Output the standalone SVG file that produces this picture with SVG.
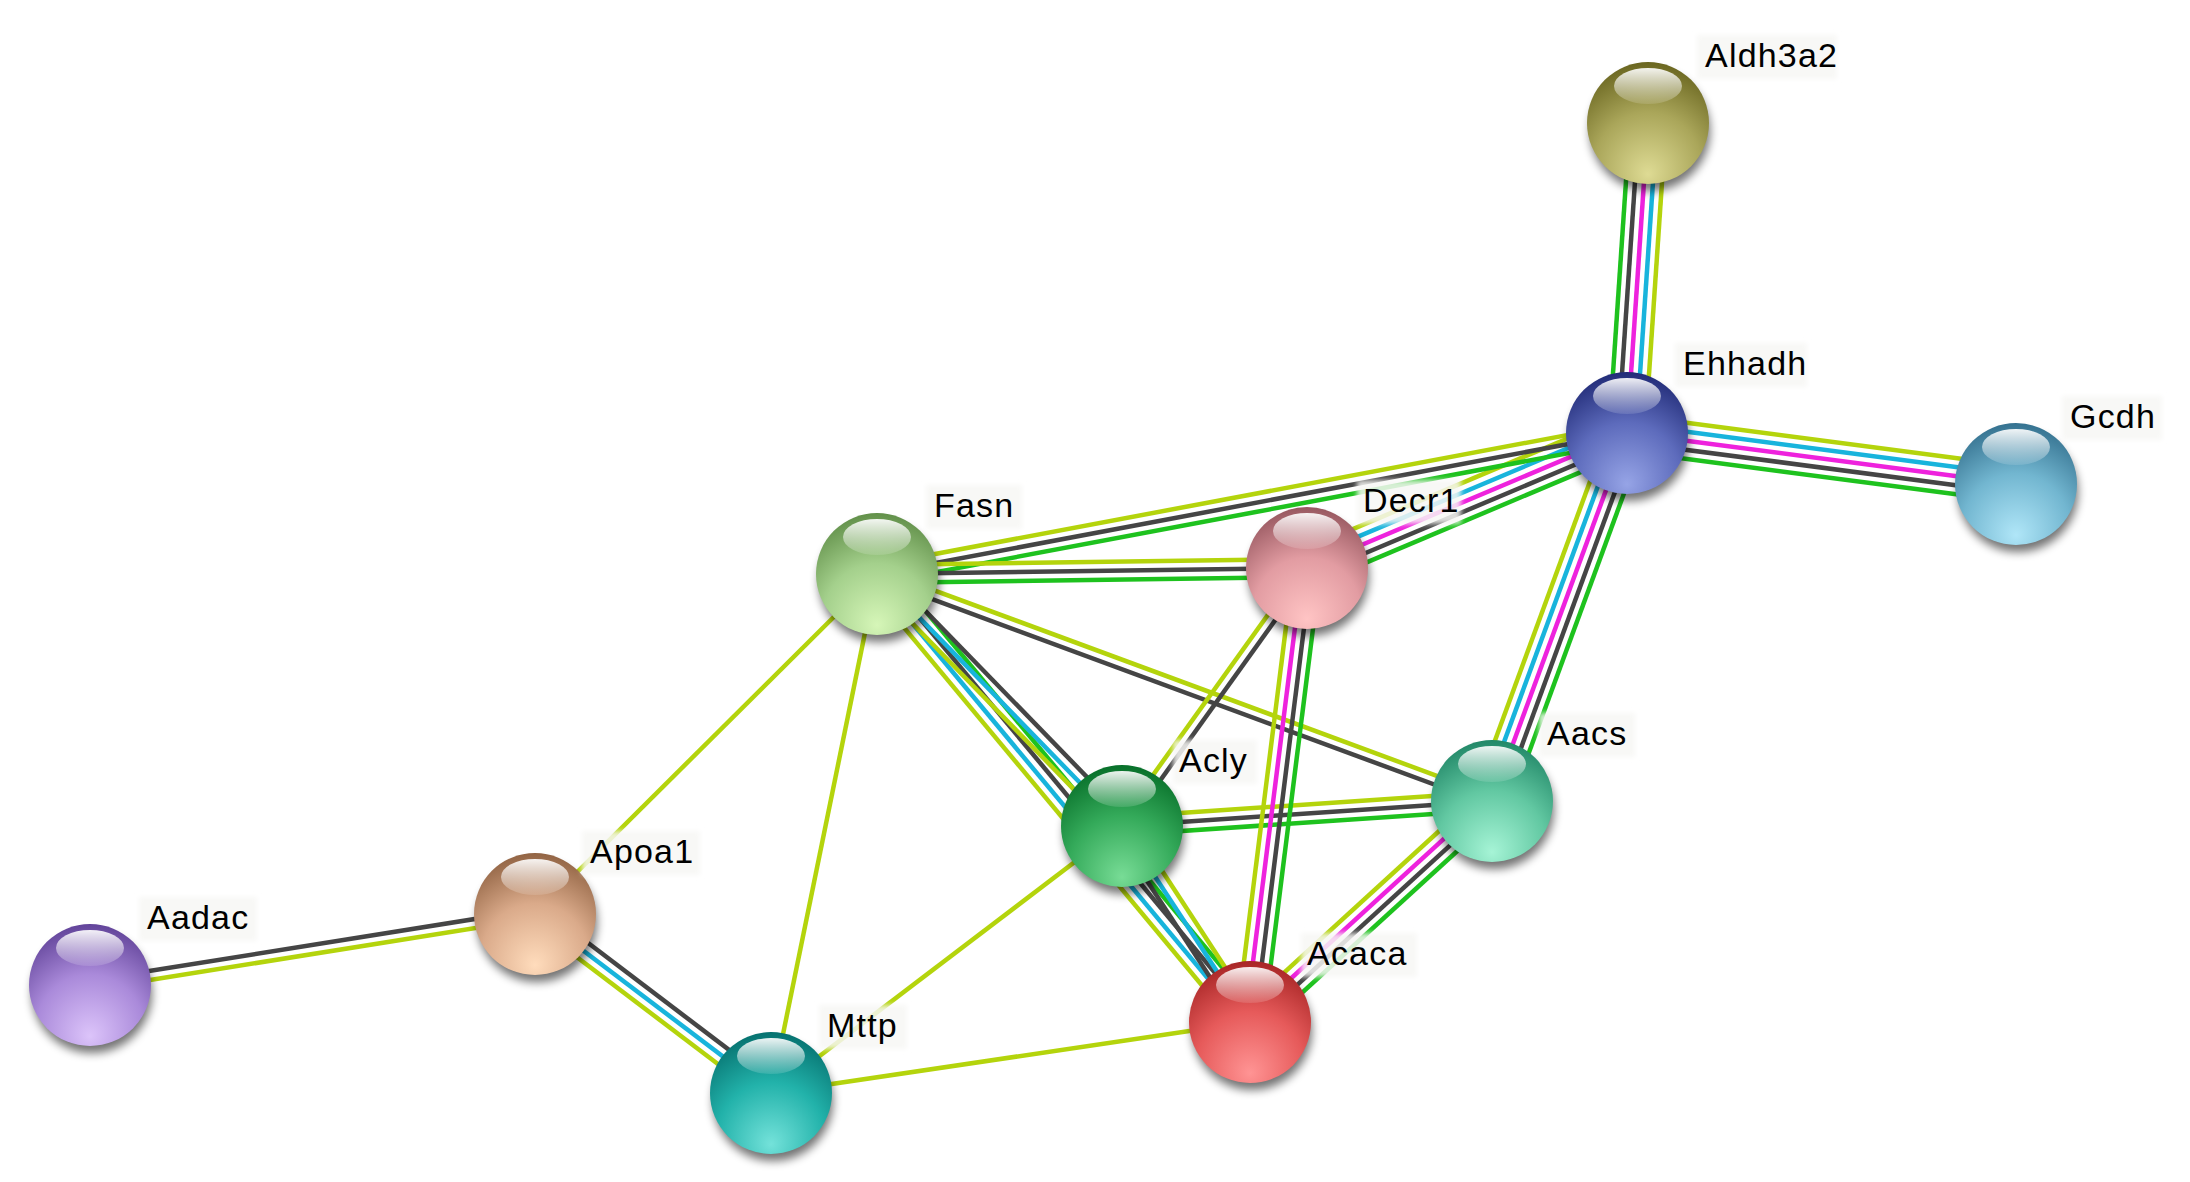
<svg xmlns="http://www.w3.org/2000/svg" width="2190" height="1182" viewBox="0 0 2190 1182">
<style>
.gn{stroke:#1ec21e}
.bk{stroke:#454545}
.mg{stroke:#ee22dd}
.cy{stroke:#18b4dc}
.yg{stroke:#b4d40c}
.lbl{font-family:"Liberation Sans",Arial,sans-serif;font-size:34px;letter-spacing:1.2px;fill:#000}
.lbg{fill:#f7f7f5;fill-opacity:0.85}
.shd{fill:#000;opacity:0.55}
.hl{fill:url(#hlg)}
</style>
<defs>
<filter id="blur" x="-30%" y="-30%" width="160%" height="160%"><feGaussianBlur stdDeviation="5"/></filter>
<filter id="soft" x="-20%" y="-40%" width="140%" height="180%"><feGaussianBlur stdDeviation="2.5"/></filter>
<linearGradient id="hlg" x1="0" y1="0" x2="0" y2="1">
<stop offset="0" stop-color="#fff" stop-opacity="0.92"/>
<stop offset="1" stop-color="#fff" stop-opacity="0.12"/>
</linearGradient>
<radialGradient id="gAldh" cx="0.5" cy="0.8" r="0.8" fx="0.5" fy="0.92"><stop offset="0" stop-color="#dedb94"/><stop offset="0.55" stop-color="#aaa65a"/><stop offset="1" stop-color="#6a6620"/></radialGradient>
<radialGradient id="gEhh" cx="0.5" cy="0.8" r="0.8" fx="0.5" fy="0.92"><stop offset="0" stop-color="#96a4e6"/><stop offset="0.55" stop-color="#5d6bbc"/><stop offset="1" stop-color="#222c78"/></radialGradient>
<radialGradient id="gGcdh" cx="0.5" cy="0.8" r="0.8" fx="0.5" fy="0.92"><stop offset="0" stop-color="#b0e6f8"/><stop offset="0.55" stop-color="#72b6d0"/><stop offset="1" stop-color="#357290"/></radialGradient>
<radialGradient id="gFasn" cx="0.5" cy="0.8" r="0.8" fx="0.5" fy="0.92"><stop offset="0" stop-color="#d6f6b8"/><stop offset="0.55" stop-color="#a4d08c"/><stop offset="1" stop-color="#62904a"/></radialGradient>
<radialGradient id="gDecr" cx="0.5" cy="0.8" r="0.8" fx="0.5" fy="0.92"><stop offset="0" stop-color="#ffc4c4"/><stop offset="0.55" stop-color="#e29ca2"/><stop offset="1" stop-color="#985860"/></radialGradient>
<radialGradient id="gAacs" cx="0.5" cy="0.8" r="0.8" fx="0.5" fy="0.92"><stop offset="0" stop-color="#a6f4d6"/><stop offset="0.55" stop-color="#62c8a2"/><stop offset="1" stop-color="#228868"/></radialGradient>
<radialGradient id="gAcly" cx="0.5" cy="0.8" r="0.8" fx="0.5" fy="0.92"><stop offset="0" stop-color="#78dc96"/><stop offset="0.55" stop-color="#34aa5a"/><stop offset="1" stop-color="#08702a"/></radialGradient>
<radialGradient id="gAcaca" cx="0.5" cy="0.8" r="0.8" fx="0.5" fy="0.92"><stop offset="0" stop-color="#ff9494"/><stop offset="0.55" stop-color="#e65a5a"/><stop offset="1" stop-color="#a82626"/></radialGradient>
<radialGradient id="gMttp" cx="0.5" cy="0.8" r="0.8" fx="0.5" fy="0.92"><stop offset="0" stop-color="#74e2da"/><stop offset="0.55" stop-color="#22b2aa"/><stop offset="1" stop-color="#067270"/></radialGradient>
<radialGradient id="gApoa" cx="0.5" cy="0.8" r="0.8" fx="0.5" fy="0.92"><stop offset="0" stop-color="#ffdcbc"/><stop offset="0.55" stop-color="#daaa8a"/><stop offset="1" stop-color="#926444"/></radialGradient>
<radialGradient id="gAadac" cx="0.5" cy="0.8" r="0.8" fx="0.5" fy="0.92"><stop offset="0" stop-color="#dcc4fa"/><stop offset="0.55" stop-color="#aa8ada"/><stop offset="1" stop-color="#62449a"/></radialGradient>
</defs>
<rect width="2190" height="1182" fill="#fff"/>
<g id="edges" stroke-width="4.5" fill="none">
<!-- Ehhadh - Aldh3a2 -->
<g transform="translate(1627 433) rotate(-86.13)">
<line class="gn" x1="0" y1="-18" x2="310.7" y2="-18"/><line class="bk" x1="0" y1="-9" x2="310.7" y2="-9"/><line class="mg" x1="0" y1="0" x2="310.7" y2="0"/><line class="cy" x1="0" y1="9" x2="310.7" y2="9"/><line class="yg" x1="0" y1="18" x2="310.7" y2="18"/>
</g>
<!-- Ehhadh - Gcdh -->
<g transform="translate(1627 433) rotate(7.47)">
<line class="yg" x1="0" y1="-18" x2="392.3" y2="-18"/><line class="cy" x1="0" y1="-9" x2="392.3" y2="-9"/><line class="mg" x1="0" y1="0" x2="392.3" y2="0"/><line class="bk" x1="0" y1="9" x2="392.3" y2="9"/><line class="gn" x1="0" y1="18" x2="392.3" y2="18"/>
</g>
<!-- Ehhadh - Decr1 -->
<g transform="translate(1627 433) rotate(157.13)">
<line class="yg" x1="0" y1="18" x2="347.3" y2="18"/><line class="cy" x1="0" y1="9" x2="347.3" y2="9"/><line class="mg" x1="0" y1="0" x2="347.3" y2="0"/><line class="bk" x1="0" y1="-9" x2="347.3" y2="-9"/><line class="gn" x1="0" y1="-18" x2="347.3" y2="-18"/>
</g>
<!-- Ehhadh - Fasn -->
<g transform="translate(1627 433) rotate(169.35)">
<line class="yg" x1="0" y1="9" x2="763.1" y2="9"/><line class="bk" x1="0" y1="0" x2="763.1" y2="0"/><line class="gn" x1="0" y1="-9" x2="763.1" y2="-9"/>
</g>
<!-- Ehhadh - Aacs -->
<g transform="translate(1627 433) rotate(110.15)">
<line class="yg" x1="0" y1="18" x2="392" y2="18"/><line class="cy" x1="0" y1="9" x2="392" y2="9"/><line class="mg" x1="0" y1="0" x2="392" y2="0"/><line class="bk" x1="0" y1="-9" x2="392" y2="-9"/><line class="gn" x1="0" y1="-18" x2="392" y2="-18"/>
</g>
<!-- Fasn - Decr1 -->
<g transform="translate(877 574) rotate(-0.8)">
<line class="yg" x1="0" y1="-9" x2="430" y2="-9"/><line class="bk" x1="0" y1="0" x2="430" y2="0"/><line class="gn" x1="0" y1="9" x2="430" y2="9"/>
</g>
<!-- Fasn - Aacs -->
<g transform="translate(877 574) rotate(20.26)">
<line class="yg" x1="0" y1="-4.5" x2="655.6" y2="-4.5"/><line class="bk" x1="0" y1="4.5" x2="655.6" y2="4.5"/>
</g>
<!-- Fasn - Acaca -->
<g transform="translate(877 574) rotate(50.22)">
<line class="yg" x1="0" y1="13.5" x2="583" y2="13.5"/><line class="cy" x1="0" y1="4.5" x2="583" y2="4.5"/><line class="bk" x1="0" y1="-4.5" x2="583" y2="-4.5"/><line class="gn" x1="0" y1="-13.5" x2="583" y2="-13.5"/>
</g>
<!-- Fasn - Acly -->
<g transform="translate(877 574) rotate(45.81)">
<line class="yg" x1="0" y1="9" x2="351.5" y2="9"/><line class="cy" x1="0" y1="0" x2="351.5" y2="0"/><line class="bk" x1="0" y1="-9" x2="351.5" y2="-9"/>
</g>
<!-- Acly - Acaca -->
<g transform="translate(1122 826) rotate(56.85)">
<line class="bk" x1="0" y1="9" x2="234.1" y2="9"/><line class="cy" x1="0" y1="0" x2="234.1" y2="0"/><line class="yg" x1="0" y1="-9" x2="234.1" y2="-9"/>
</g>
<!-- Acly - Aacs -->
<g transform="translate(1122 826) rotate(-3.87)">
<line class="yg" x1="0" y1="-9" x2="370.8" y2="-9"/><line class="bk" x1="0" y1="0" x2="370.8" y2="0"/><line class="gn" x1="0" y1="9" x2="370.8" y2="9"/>
</g>
<!-- Decr1 - Acly -->
<g transform="translate(1307 568) rotate(125.64)">
<line class="yg" x1="0" y1="4.5" x2="317.5" y2="4.5"/><line class="bk" x1="0" y1="-4.5" x2="317.5" y2="-4.5"/>
</g>
<!-- Decr1 - Acaca -->
<g transform="translate(1307 568) rotate(97.16)">
<line class="yg" x1="0" y1="13.5" x2="457.6" y2="13.5"/><line class="mg" x1="0" y1="4.5" x2="457.6" y2="4.5"/><line class="bk" x1="0" y1="-4.5" x2="457.6" y2="-4.5"/><line class="gn" x1="0" y1="-13.5" x2="457.6" y2="-13.5"/>
</g>
<!-- Aacs - Acaca -->
<g transform="translate(1492 801) rotate(137.6)">
<line class="yg" x1="0" y1="13.5" x2="327.7" y2="13.5"/><line class="mg" x1="0" y1="4.5" x2="327.7" y2="4.5"/><line class="bk" x1="0" y1="-4.5" x2="327.7" y2="-4.5"/><line class="gn" x1="0" y1="-13.5" x2="327.7" y2="-13.5"/>
</g>
<!-- Apoa1 - Mttp -->
<g transform="translate(535 914) rotate(37.18)">
<line class="bk" x1="0" y1="-9" x2="296.2" y2="-9"/><line class="cy" x1="0" y1="0" x2="296.2" y2="0"/><line class="yg" x1="0" y1="9" x2="296.2" y2="9"/>
</g>
<!-- Aadac - Apoa1 -->
<g transform="translate(90 985) rotate(-9.07)">
<line class="bk" x1="0" y1="-4.5" x2="450.6" y2="-4.5"/><line class="yg" x1="0" y1="4.5" x2="450.6" y2="4.5"/>
</g>
<!-- single textmining edges -->
<line class="yg" x1="877" y1="574" x2="535" y2="914"/>
<line class="yg" x1="877" y1="574" x2="771" y2="1093"/>
<line class="yg" x1="1122" y1="826" x2="771" y2="1093"/>
<line class="yg" x1="771" y1="1093" x2="1250" y2="1022"/>
</g>

<g id="node-Aldh3a2">
<circle class="shd" cx="1650" cy="131" r="60" filter="url(#blur)"/>
<circle cx="1648" cy="123" r="61" fill="url(#gAldh)"/>
<ellipse class="hl" cx="1648" cy="86" rx="34" ry="18"/>
<rect class="lbg" x="1697" y="35" width="140" height="44" filter="url(#soft)"/>
<text class="lbl" x="1705" y="67">Aldh3a2</text>
</g>
<g id="node-Ehhadh">
<circle class="shd" cx="1629" cy="441" r="60" filter="url(#blur)"/>
<circle cx="1627" cy="433" r="61" fill="url(#gEhh)"/>
<ellipse class="hl" cx="1627" cy="396" rx="34" ry="18"/>
<rect class="lbg" x="1675" y="343" width="132" height="44" filter="url(#soft)"/>
<text class="lbl" x="1683" y="375">Ehhadh</text>
</g>
<g id="node-Gcdh">
<circle class="shd" cx="2018" cy="492" r="60" filter="url(#blur)"/>
<circle cx="2016" cy="484" r="61" fill="url(#gGcdh)"/>
<ellipse class="hl" cx="2016" cy="447" rx="34" ry="18"/>
<rect class="lbg" x="2062" y="396" width="100" height="44" filter="url(#soft)"/>
<text class="lbl" x="2070" y="428">Gcdh</text>
</g>
<g id="node-Fasn">
<circle class="shd" cx="879" cy="582" r="60" filter="url(#blur)"/>
<circle cx="877" cy="574" r="61" fill="url(#gFasn)"/>
<ellipse class="hl" cx="877" cy="537" rx="34" ry="18"/>
<rect class="lbg" x="926" y="485" width="96" height="44" filter="url(#soft)"/>
<text class="lbl" x="934" y="517">Fasn</text>
</g>
<g id="node-Decr1">
<circle class="shd" cx="1309" cy="576" r="60" filter="url(#blur)"/>
<circle cx="1307" cy="568" r="61" fill="url(#gDecr)"/>
<ellipse class="hl" cx="1307" cy="531" rx="34" ry="18"/>
<rect class="lbg" x="1357" y="480" width="104" height="44" filter="url(#soft)"/>
<text class="lbl" x="1363" y="512">Decr1</text>
</g>
<g id="node-Aacs">
<circle class="shd" cx="1494" cy="809" r="60" filter="url(#blur)"/>
<circle cx="1492" cy="801" r="61" fill="url(#gAacs)"/>
<ellipse class="hl" cx="1492" cy="764" rx="34" ry="18"/>
<rect class="lbg" x="1539" y="713" width="96" height="44" filter="url(#soft)"/>
<text class="lbl" x="1547" y="745">Aacs</text>
</g>
<g id="node-Acly">
<circle class="shd" cx="1124" cy="834" r="60" filter="url(#blur)"/>
<circle cx="1122" cy="826" r="61" fill="url(#gAcly)"/>
<ellipse class="hl" cx="1122" cy="789" rx="34" ry="18"/>
<rect class="lbg" x="1173" y="740" width="84" height="44" filter="url(#soft)"/>
<text class="lbl" x="1179" y="772">Acly</text>
</g>
<g id="node-Acaca">
<circle class="shd" cx="1252" cy="1030" r="60" filter="url(#blur)"/>
<circle cx="1250" cy="1022" r="61" fill="url(#gAcaca)"/>
<ellipse class="hl" cx="1250" cy="985" rx="34" ry="18"/>
<rect class="lbg" x="1301" y="933" width="116" height="44" filter="url(#soft)"/>
<text class="lbl" x="1307" y="965">Acaca</text>
</g>
<g id="node-Mttp">
<circle class="shd" cx="773" cy="1101" r="60" filter="url(#blur)"/>
<circle cx="771" cy="1093" r="61" fill="url(#gMttp)"/>
<ellipse class="hl" cx="771" cy="1056" rx="34" ry="18"/>
<rect class="lbg" x="819" y="1005" width="88" height="44" filter="url(#soft)"/>
<text class="lbl" x="827" y="1037">Mttp</text>
</g>
<g id="node-Apoa1">
<circle class="shd" cx="537" cy="922" r="60" filter="url(#blur)"/>
<circle cx="535" cy="914" r="61" fill="url(#gApoa)"/>
<ellipse class="hl" cx="535" cy="877" rx="34" ry="18"/>
<rect class="lbg" x="582" y="831" width="118" height="44" filter="url(#soft)"/>
<text class="lbl" x="590" y="863">Apoa1</text>
</g>
<g id="node-Aadac">
<circle class="shd" cx="92" cy="993" r="60" filter="url(#blur)"/>
<circle cx="90" cy="985" r="61" fill="url(#gAadac)"/>
<ellipse class="hl" cx="90" cy="948" rx="34" ry="18"/>
<rect class="lbg" x="139" y="897" width="118" height="44" filter="url(#soft)"/>
<text class="lbl" x="147" y="929">Aadac</text>
</g>
</svg>
